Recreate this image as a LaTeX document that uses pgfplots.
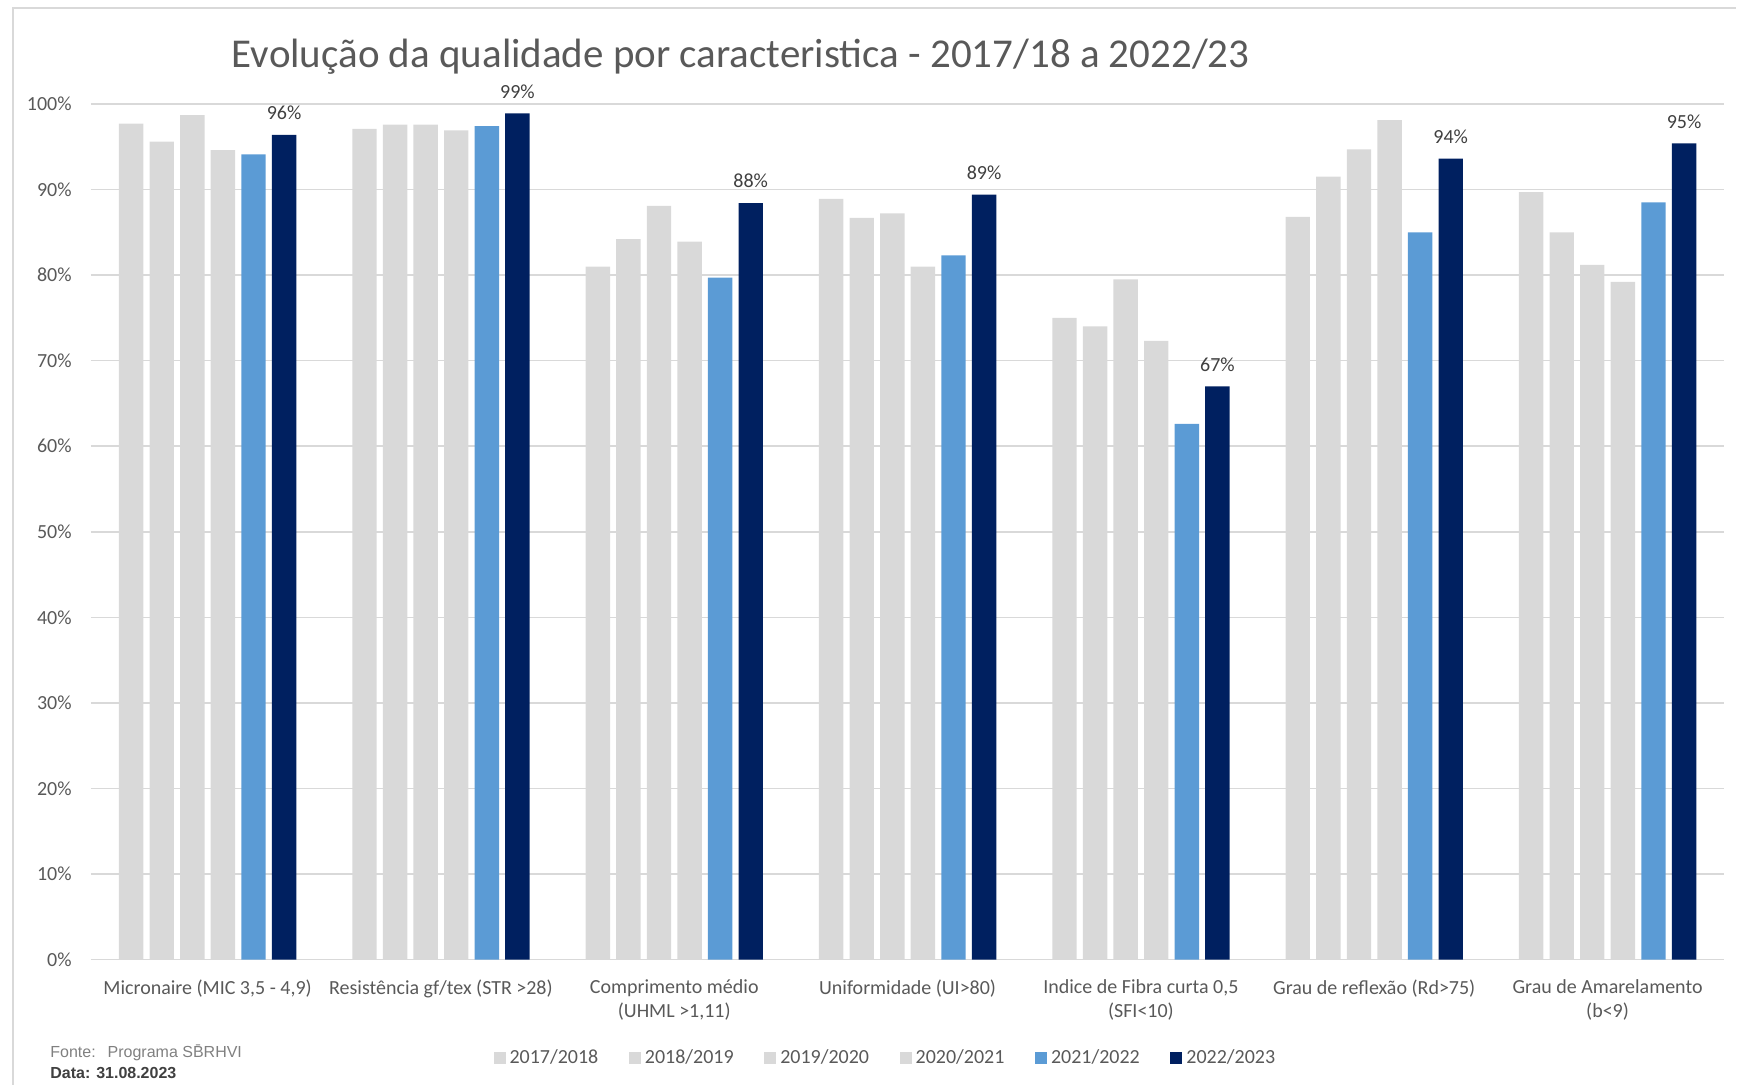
\documentclass[border=0pt]{standalone}
\usepackage{fontspec}
\setmainfont{Carlito}
\newfontfamily\footfont{Liberation Sans}
\usepackage{pgfplots}
\pgfplotsset{compat=1.18}
\usepackage{pgfplotstable}

\definecolor{gridgray}{HTML}{D9D9D9}
\definecolor{bargray}{HTML}{D9D9D9}
\definecolor{midblue}{HTML}{5B9BD5}
\definecolor{navy}{HTML}{002060}
\definecolor{txtgray}{HTML}{595959}
\definecolor{lblgray}{HTML}{404040}
\definecolor{footgray}{HTML}{808080}

% share of samples within the limit, per harvest
\pgfplotstableread{
x  a     b     c     d     e     f
0  97.7  95.6  98.7  94.6  94.1  96.4
1  97.1  97.6  97.6  96.9  97.4  98.9
2  81.0  84.2  88.1  83.9  79.7  88.4
3  88.9  86.7  87.2  81.0  82.3  89.4
4  75.0  74.0  79.5  72.3  62.6  67.0
5  86.8  91.5  94.7  98.1  85.0  93.6
6  89.7  85.0  81.2  79.2  88.5  95.4
}\quality

\begin{document}
\begin{tikzpicture}
\path (0,0) rectangle (868.5pt,-542.5pt);
\draw[gridgray, line width=0.75pt] (6.5pt,-542.5pt) -- (6.5pt,-4pt) -- (868.5pt,-4pt);

\node[text=txtgray, font=\fontsize{20.5}{24}\selectfont] at (370.5pt,-28.25pt)
  {Evolução da qualidade por caracteristica - 2017/18 a 2022/23};

\begin{axis}[
  at={(45.5pt,-480pt)}, anchor=south west,
  scale only axis, width=817pt, height=428pt,
  ybar=3.1pt, bar width=12.2pt,
  xmin=-0.5, xmax=6.5, ymin=0, ymax=100,
  xtick={0,...,6},
  xticklabels={{Micronaire (MIC 3,5 - 4,9)}, {Resistência gf/tex (STR >28)},
    {Comprimento médio\\(UHML >1,11)}, {Uniformidade (UI>80)},
    {Indice de Fibra curta 0,5\\(SFI<10)}, {Grau de reflexão (Rd>75)},
    {Grau de Amarelamento\\(b<9)}},
  ytick={0,10,...,100},
  yticklabel={\pgfmathprintnumber{\tick}\%},
  /pgf/number format/assume math mode=true,
  ymajorgrids, grid style={gridgray, line width=0.75pt},
  axis line style={draw=none}, major tick length=0pt,
  tick label style={text=txtgray, font=\fontsize{10}{12}\selectfont},
  xticklabel style={align=center, anchor=north, inner sep=0pt, yshift=-10pt},
  yticklabel style={anchor=east, inner sep=0pt, xshift=-9.5pt},
  legend style={at={(0.487,-0.115)}, anchor=center, draw=none, fill=none,
    legend columns=6, text=txtgray, font=\fontsize{10}{12}\selectfont,
    /tikz/every even column/.style={column sep=13.3pt}},
  legend image code/.code={\fill[#1] (0pt,-3pt) rectangle (6pt,3pt);},
]
\addplot[fill=bargray, draw=none] table[x=x, y=a] {\quality};
\addlegendentry{2017/2018}
\addplot[fill=bargray, draw=none] table[x=x, y=b] {\quality};
\addlegendentry{2018/2019}
\addplot[fill=bargray, draw=none] table[x=x, y=c] {\quality};
\addlegendentry{2019/2020}
\addplot[fill=bargray, draw=none] table[x=x, y=d] {\quality};
\addlegendentry{2020/2021}
\addplot[fill=midblue, draw=none] table[x=x, y=e] {\quality};
\addlegendentry{2021/2022}
\addplot[fill=navy, draw=none,
  nodes near coords={\pgfmathprintnumber[fixed,precision=0]{\pgfplotspointmeta}\%},
  every node near coord/.append style={text=lblgray, font=\fontsize{10}{12}\selectfont, yshift=4pt}]
  table[x=x, y=f] {\quality};
\addlegendentry{2022/2023}
\end{axis}

\node[anchor=west, inner sep=0pt, text=footgray, font=\footfont\fontsize{8}{10}\selectfont]
  at (25pt,-526.5pt) {Fonte:\hspace{6pt}Programa SB̄RHVI};
\node[anchor=west, inner sep=0pt, text=lblgray, font=\footfont\bfseries\fontsize{8}{10}\selectfont]
  at (25pt,-536.5pt) {Data: 31.08.2023};
\end{tikzpicture}
\end{document}
